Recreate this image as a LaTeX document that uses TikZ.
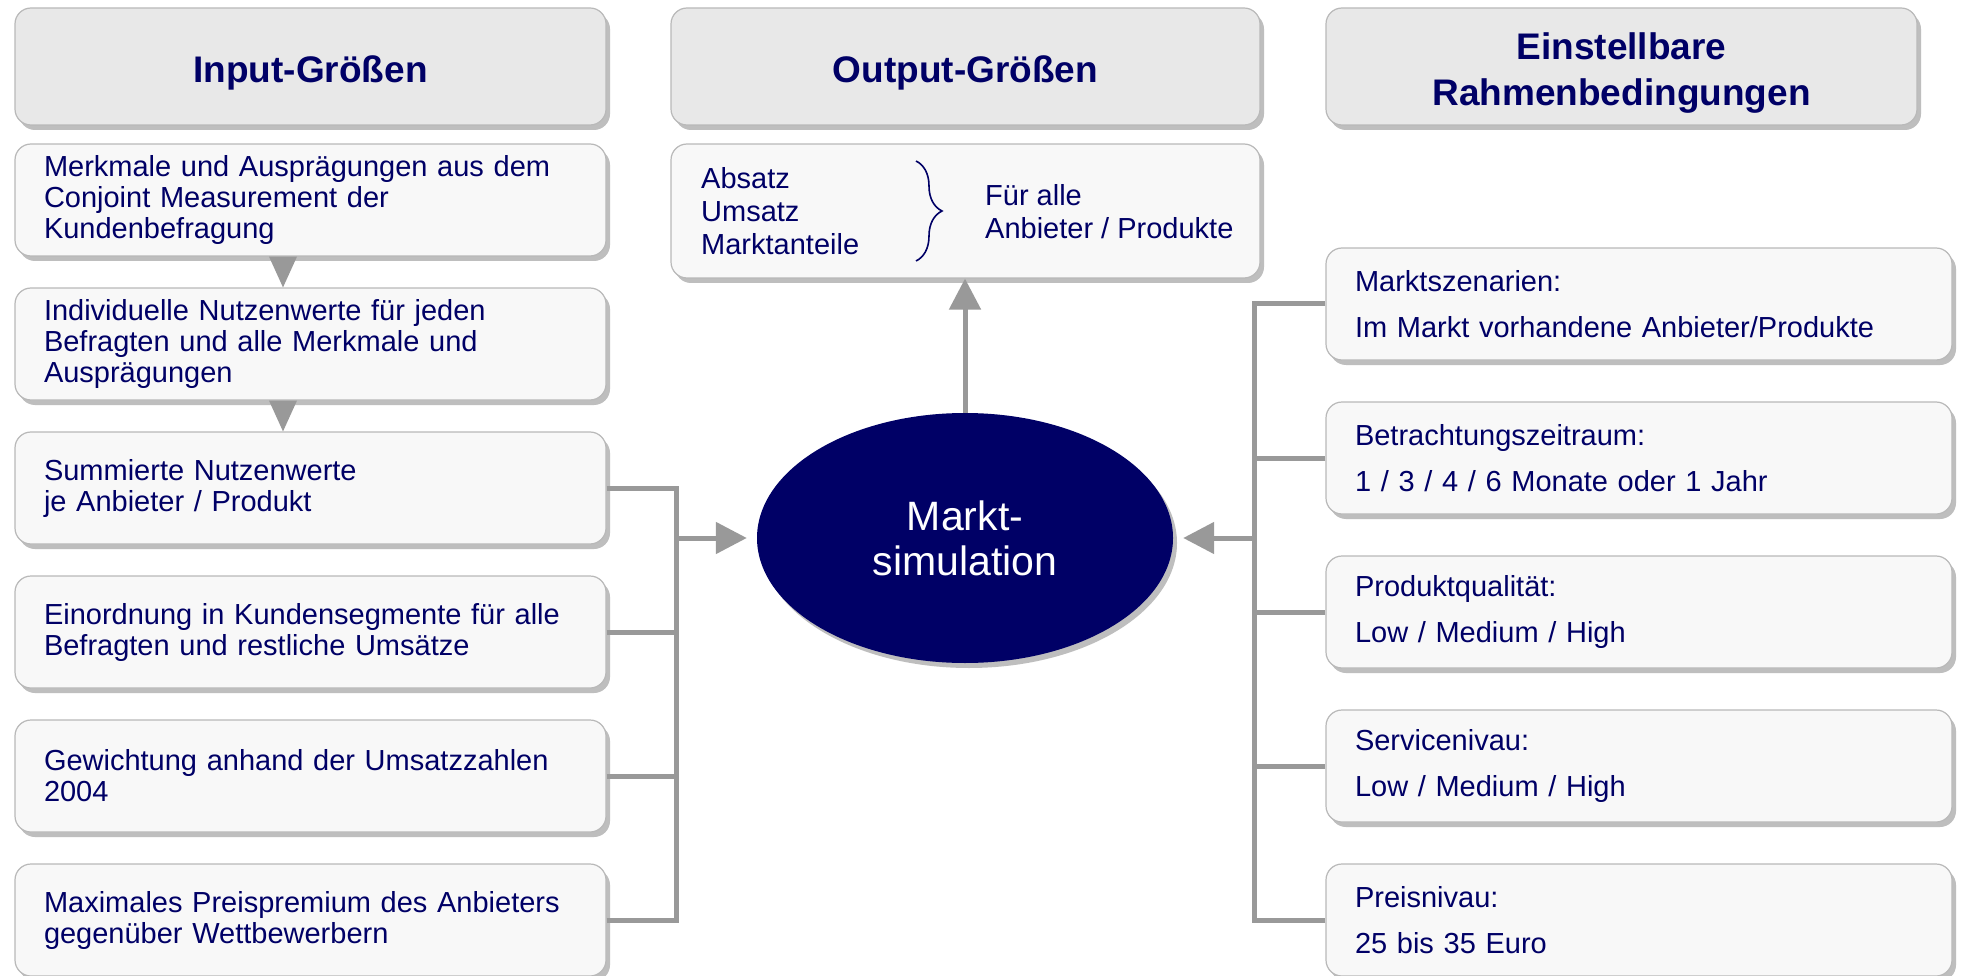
\documentclass[tikz,border=0pt]{standalone}
\usepackage{fontspec}
\setmainfont{Liberation Sans}
\usetikzlibrary{shapes.geometric,shadows,arrows.meta,decorations.pathreplacing}

\definecolor{navy}{RGB}{0,0,102}
\definecolor{boxfill}{RGB}{248,248,248}
\definecolor{headfill}{RGB}{232,232,232}
\definecolor{boxline}{RGB}{185,185,185}
\definecolor{shadowgray}{RGB}{190,190,190}
\definecolor{linegray}{RGB}{153,153,153}

\tikzset{
  card/.style={draw=boxline, line width=1.2pt, fill=boxfill, rounded corners=16pt,
    drop shadow={shadow xshift=4pt, shadow yshift=-5pt, fill=shadowgray, opacity=1},
    text=navy, inner xsep=29pt, inner ysep=0pt, align=left,
    font=\fontsize{29}{31}\selectfont},
  headcard/.style={card, fill=headfill, align=center, text width=520pt,
    minimum width=591pt, minimum height=117pt, font=\fontsize{37}{46}\selectfont\bfseries,
    execute at begin node={\rule{0pt}{40pt}}},
  inbox/.style={card, text width=533pt, minimum height=112pt},
  condbox/.style={card, text width=568pt, minimum height=112pt, font=\fontsize{29}{46}\selectfont},
  core/.style={ellipse, fill=navy, minimum width=416pt, minimum height=250pt,
    drop shadow={shadow xshift=4pt, shadow yshift=-5pt, fill=shadowgray, opacity=1},
    text=white, align=center, font=\fontsize{41}{45}\selectfont},
  plain/.style={text=navy, inner sep=0pt, align=left, font=\fontsize{29}{33}\selectfont},
  link/.style={draw=linegray, line width=5pt},
  bigtip/.style={-{Triangle[length=31pt,width=31pt]}}
}

\begin{document}
\begin{tikzpicture}[x=1pt, y=-1pt]
    \useasboundingbox[fill=white] (0,0) rectangle (1962,976);

    % Column heads
    \node[headcard] (headin) at (310.5,66.5) {Input-Größen};
    \node[headcard, minimum width=589pt] (headout) at (965.5,66.5) {Output-Größen};
    \node[headcard] (headcond) at (1621.5,66.5) {Einstellbare\\Rahmenbedingungen};

    % Input boxes
    \foreach \i/\txt in {1/{Merkmale und Ausprägungen aus dem\\Conjoint Measurement der\\Kundenbefragung},
                         2/{Individuelle Nutzenwerte für jeden\\Befragten und alle Merkmale und\\Ausprägungen},
                         3/{Summierte Nutzenwerte\\je Anbieter / Produkt},
                         4/{Einordnung in Kundensegmente für alle\\Befragten und restliche Umsätze},
                         5/{Gewichtung anhand der Umsatzzahlen\\2004},
                         6/{Maximales Preispremium des Anbieters\\gegenüber Wettbewerbern}} {
        \node[inbox] (in\i) at (310.5,{56+144*\i}) {\txt};
    }

    % Conditions
    \foreach \i/\txt in {1/{Marktszenarien:\\Im Markt vorhandene Anbieter/Produkte},
                         2/{Betrachtungszeitraum:\\1 / 3 / 4 / 6 Monate oder 1 Jahr},
                         3/{Produktqualität:\\Low / Medium / High},
                         4/{Servicenivau:\\Low / Medium / High},
                         5/{Preisnivau:\\25 bis 35 Euro}} {
        \node[condbox] (cond\i) at (1639,{150+154*\i}) {\txt};
    }

    % Output box
    \node[card, minimum width=589pt, minimum height=134pt] (out) at (965.5,211) {};
    \node[plain, anchor=west] (outlist) at (701,211) {Absatz\\Umsatz\\Marktanteile};
    \node[plain, anchor=west] (outall) at (985,212) {Für alle\\Anbieter / Produkte};
    \draw[navy, line width=1.6pt, decorate, decoration={brace, amplitude=26pt}] (916,161) -- (916,261);

    % Simulation
    \node[core] (sim) at (965,538) {Markt-\\simulation};

    % Connectors
    \coordinate (jin) at (676,538);
    \coordinate (jcond) at (1254,538);
    \foreach \i in {3,...,6}
        \draw[link] (in\i.east) -| (jin);
    \foreach \i in {1,...,5}
        \draw[link] (cond\i.west) -| (jcond);
    \draw[link, bigtip, shorten >=10pt] (jin) -- (sim.west);
    \draw[link, bigtip, shorten >=10pt] (jcond) -- (sim.east);
    \draw[link, bigtip] (sim.north) -- (sim.north |- out.south);

    % Steps between the first input boxes
    \foreach \a/\b in {in1/in2, in2/in3}
        \fill[linegray] ([xshift=-41.5pt]\a.south) -- ([xshift=-13.5pt]\a.south) -- ([xshift=-27.5pt]\b.north) -- cycle;
\end{tikzpicture}
\end{document}
